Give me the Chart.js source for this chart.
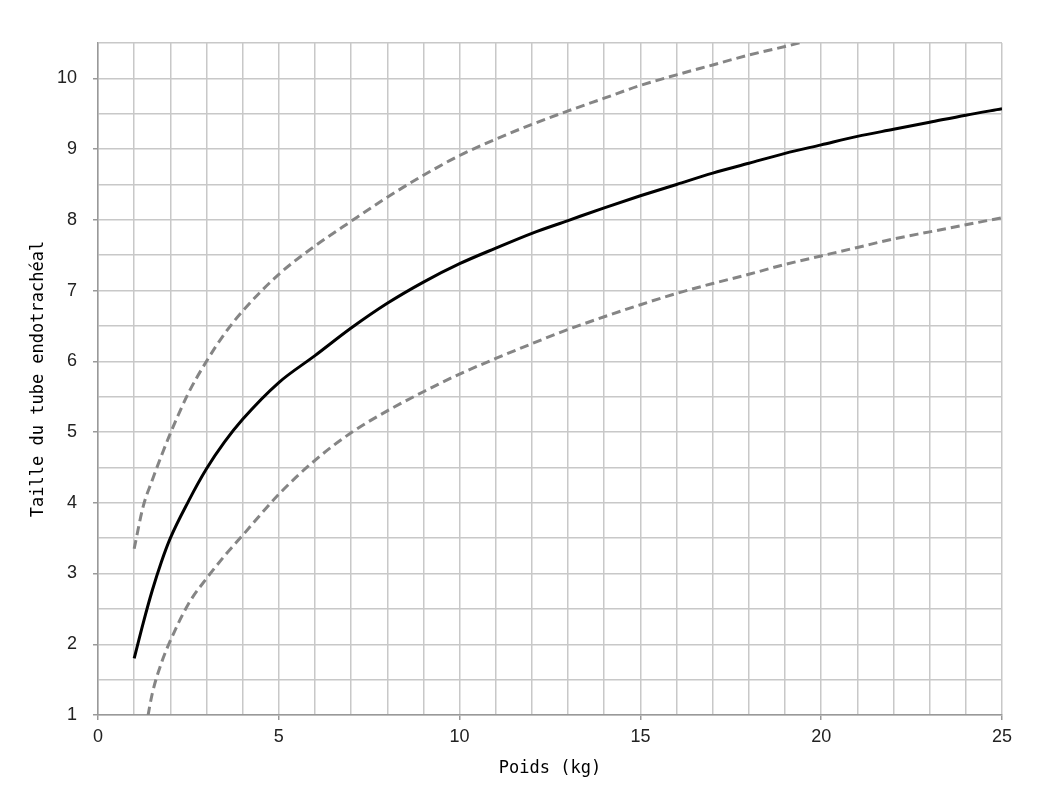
<!DOCTYPE html>
<html>
<head>
<meta charset="utf-8">
<script src="https://cdn.jsdelivr.net/npm/chart.js@4/dist/chart.umd.min.js"></script>
<style>
  html, body { margin: 0; padding: 0; background: #fff; }
  #wrap { width: 1041px; height: 798px; }
</style>
</head>
<body>
<div id="wrap"><canvas id="chart" width="1041" height="798"></canvas></div>
<script>
// poids (kg)
const weightKg = [1, 1.25, 1.5, 1.75, 2, 2.5, 3, 3.5, 4, 5, 6, 7, 8, 9, 10,
                  11, 12, 13, 14, 15, 16, 17, 18, 19, 20, 21, 22, 23, 24, 25];

// taille du tube : courbe centrale
const tubeMid = [1.8, 2.3, 2.76, 3.16, 3.5, 4.02, 4.48, 4.86, 5.18, 5.7, 6.08, 6.47, 6.82, 7.12, 7.38,
                 7.6, 7.81, 7.99, 8.17, 8.34, 8.5, 8.66, 8.8, 8.94, 9.06, 9.18, 9.28, 9.38, 9.48, 9.57];

// limite haute (coupée en haut du graphique)
const tubeUpper = [3.35, 3.95, 4.32, 4.66, 4.98, 5.55, 6.0, 6.39, 6.71, 7.23, 7.63, 7.98, 8.32, 8.63, 8.91,
                   9.14, 9.35, 9.54, 9.72, 9.9, 10.05, 10.19, 10.33, 10.45, 10.58, null, null, null, null, null];

// limite basse (coupée en bas)
const tubeLower = [null, 0.6, 1.3, 1.73, 2.05, 2.57, 2.93, 3.25, 3.54, 4.12, 4.6, 4.99, 5.3, 5.57, 5.82,
                   6.04, 6.25, 6.45, 6.63, 6.8, 6.96, 7.1, 7.23, 7.37, 7.49, 7.61, 7.73, 7.83, 7.93, 8.03];

const xLabels = [0, 5, 10, 15, 20, 25];
const yLabels = [1, 2, 3, 4, 5, 6, 7, 8, 9, 10];

const toPoints = vals => weightKg.map((x, i) => ({ x, y: vals[i] }));

const tickFont  = { family: "'Liberation Sans', Arial, sans-serif", size: 18 };
const titleFont = { family: "'DejaVu Sans Mono', monospace", size: 17 };
const gridColor = "#c8c8c8";

const dashed = {
  borderColor: "#858585",
  borderWidth: 3,
  borderDash: [9, 5],
  pointRadius: 0,
  fill: false,
  tension: 0.4,
  cubicInterpolationMode: "monotone",
};

new Chart(document.getElementById("chart"), {
  type: "line",
  data: {
    datasets: [
      { ...dashed, label: "haut", data: toPoints(tubeUpper) },
      { ...dashed, label: "bas",  data: toPoints(tubeLower) },
      {
        label: "centre",
        data: toPoints(tubeMid),
        borderColor: "#000",
        borderWidth: 3,
        pointRadius: 0,
        fill: false,
        tension: 0.4,
        cubicInterpolationMode: "monotone",
      },
    ],
  },
  options: {
    responsive: false,
    animation: false,
    layout: { padding: { top: 43, right: 39, left: 0, bottom: 0 } },
    plugins: { legend: { display: false }, tooltip: { enabled: false } },
    scales: {
      x: {
        type: "linear",
        min: 0,
        max: 25,
        afterFit: s => { s.height = 83; },
        grid: {
          color: gridColor,
          lineWidth: 1.5,
          tickLength: 5,
          tickColor: ctx => xLabels.includes(ctx.tick.value) ? "#999" : "rgba(0,0,0,0)",
        },
        border: { color: "#999", width: 1.5 },
        ticks: {
          stepSize: 1,
          autoSkip: false,
          maxRotation: 0,
          padding: 6,
          color: "#222",
          font: tickFont,
          callback: v => xLabels.includes(v) ? String(v) : "",
        },
        title: {
          display: true,
          text: "Poids (kg)",
          color: "#000",
          font: titleFont,
          padding: { top: 0, bottom: 19 },
        },
      },
      y: {
        min: 1,
        max: 10.5,
        afterFit: s => { s.width = 98; },
        grid: {
          color: gridColor,
          lineWidth: 1.5,
          tickLength: 5,
          tickColor: ctx => yLabels.includes(ctx.tick.value) ? "#999" : "rgba(0,0,0,0)",
        },
        border: { color: "#999", width: 1.5 },
        ticks: {
          stepSize: 0.5,
          autoSkip: false,
          padding: 16,
          color: "#222",
          font: tickFont,
          callback: v => yLabels.includes(v) ? String(v) : "",
        },
        title: {
          display: true,
          text: "Taille du tube endotrachéal",
          color: "#000",
          font: titleFont,
          padding: { top: 28, bottom: 0 },
        },
      },
    },
  },
});
</script>
</body>
</html>
